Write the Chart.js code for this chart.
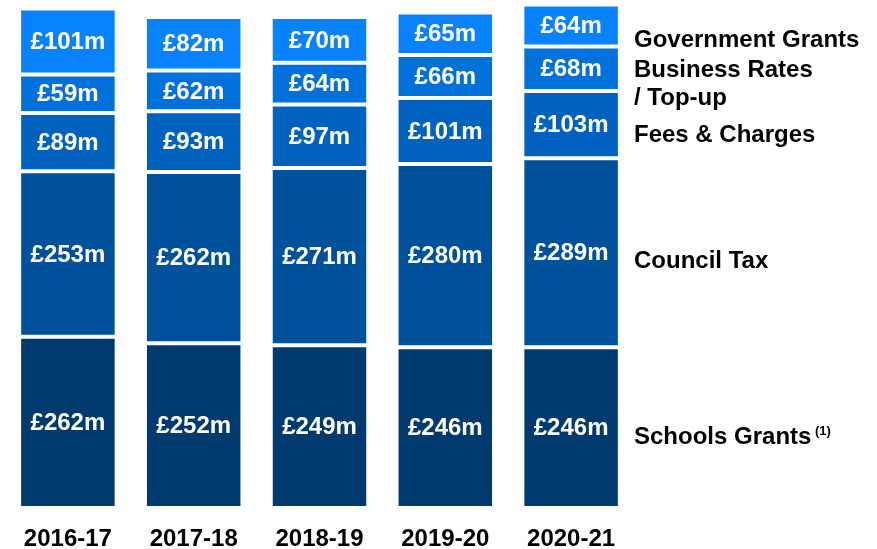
<!DOCTYPE html>
<html lang="en">
<head>
    <meta charset="UTF-8">
    <title>Income sources</title>
    <style>
      html, body { margin: 0; padding: 0; background: #fff; }
      #wrap { width: 877px; height: 549px; }
    </style>
</head>
<script src="https://cdn.jsdelivr.net/npm/chart.js@4.4.0/dist/chart.umd.min.js"></script>
<body>
  <div id="wrap"><canvas id="incomeChart" width="877" height="549"></canvas></div>

<script>
  // years along the bottom
  var years = ['2016-17', '2017-18', '2018-19', '2019-20', '2020-21'];

  // £m per year, bottom of the stack first
  var schoolsGrants   = [262, 252, 249, 246, 246];
  var councilTax      = [253, 262, 271, 280, 289];
  var feesCharges     = [89, 93, 97, 101, 103];
  var businessRates   = [59, 62, 64, 66, 68];
  var governmentGrants = [101, 82, 70, 65, 64];

  // side captions: text lines and the vertical position of each
  var captionLines = [
    { text: 'Government Grants', y: 40 },
    { text: 'Business Rates', y: 70 },
    { text: '/ Top-up', y: 98 },
    { text: 'Fees & Charges', y: 135 },
    { text: 'Council Tax', y: 261 },
    { text: 'Schools Grants', y: 437, note: '(1)' }
  ];

  var FONT = '"Liberation Sans", Arial, sans-serif';

  function seg(label, values, color) {
    return {
      label: label,
      data: values,
      backgroundColor: color,
      borderColor: '#ffffff',
      borderWidth: 2,
      borderSkipped: false,
      barPercentage: 0.775,
      categoryPercentage: 1.0
    };
  }

  // white £ labels in the middle of each block
  var valueLabels = {
    id: 'valueLabels',
    afterDatasetsDraw: function(chart) {
      var ctx = chart.ctx;
      ctx.save();
      ctx.fillStyle = '#ffffff';
      ctx.font = 'bold 24px ' + FONT;
      ctx.textAlign = 'center';
      ctx.textBaseline = 'middle';
      chart.data.datasets.forEach(function(ds, i) {
        chart.getDatasetMeta(i).data.forEach(function(bar, j) {
          var mid = (bar.y + bar.base) / 2;
          ctx.fillText('£' + ds.data[j] + 'm', bar.x, mid + 1);
        });
      });
      ctx.restore();
    }
  };

  // series names on the right
  var sideCaptions = {
    id: 'sideCaptions',
    afterDraw: function(chart) {
      var ctx = chart.ctx;
      var x = chart.chartArea.right;
      ctx.save();
      ctx.fillStyle = '#000000';
      ctx.textAlign = 'left';
      ctx.textBaseline = 'middle';
      captionLines.forEach(function(c) {
        ctx.font = 'bold 24px ' + FONT;
        ctx.fillText(c.text, x, c.y);
        if (c.note) {
          var w = ctx.measureText(c.text + ' ').width;
          ctx.font = 'bold 13px ' + FONT;
          ctx.fillText(c.note, x + w - 3, c.y - 6);
        }
      });
      ctx.restore();
    }
  };

  new Chart(document.getElementById('incomeChart'), {
    type: 'bar',
    data: {
      labels: years,
      datasets: [
        seg('Schools Grants', schoolsGrants, '#003a6e'),
        seg('Council Tax', councilTax, '#00519b'),
        seg('Fees & Charges', feesCharges, '#0062be'),
        seg('Business Rates / Top-up', businessRates, '#0070da'),
        seg('Government Grants', governmentGrants, '#0882ff')
      ]
    },
    options: {
      responsive: false,
      animation: false,
      layout: { padding: { left: 5, right: 243, top: 0, bottom: 0 } },
      plugins: {
        legend: { display: false },
        tooltip: { enabled: false }
      },
      scales: {
        x: {
          stacked: true,
          grid: { display: false, drawTicks: false },
          border: { display: false },
          ticks: {
            color: '#000000',
            font: { family: FONT, size: 24, weight: 'bold' },
            padding: 17
          },
          afterFit: function(scale) { scale.height = 41; }
        },
        y: {
          stacked: true,
          display: false,
          min: 0,
          max: 777
        }
      }
    },
    plugins: [valueLabels, sideCaptions]
  });
</script>
</body>
</html>
